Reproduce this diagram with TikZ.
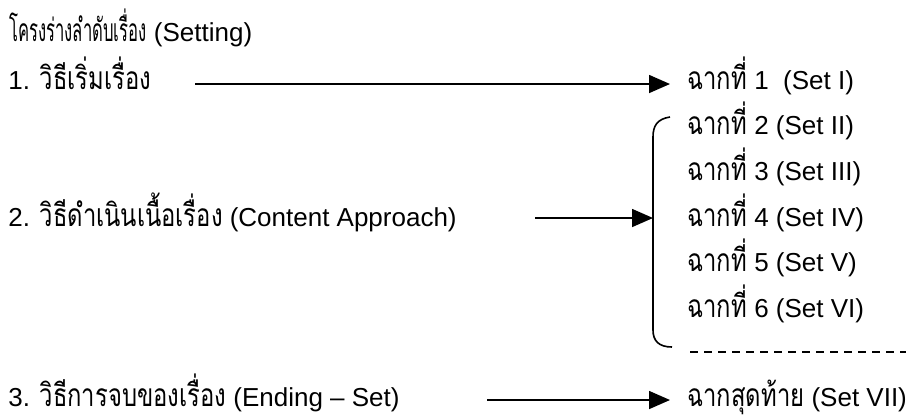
\documentclass[tikz,border=0pt]{standalone}
\usepackage{fontspec}
\usepackage{graphicx}
\setmainfont{Liberation Sans}
\newfontfamily\thai[Script=Thai,Scale=1.22,FakeStretch=0.75]{Loma}
\newcommand\thx[2]{\scalebox{#1}[1]{\thai #2}}
\usetikzlibrary{arrows.meta}
\begin{document}
\begin{tikzpicture}[x=0.5pt,y=-0.5pt,
  txt/.style={anchor=base west,inner sep=0pt,font=\fontsize{13}{15}\selectfont},
  arr/.style={line width=0.8pt,-{Triangle[length=10.5pt,width=9pt]}},
  brace/.style={line width=0.8pt},
  dashline/.style={line width=0.7pt,dash pattern=on 4pt off 3pt}]
\useasboundingbox (0,0) rectangle (909,419);
% left column
\node[txt] (title) at (9,41) {\thx{0.7}{โครงร่างลำดับเรื่อง} (Setting)};
\node[txt] (m1) at (8,89) {1. {\thai วิธีเริ่มเรื่อง}};
\node[txt] (m2) at (8,226) {2. {\thai วิธีดำเนินเนื้อเรื่อง} (Content Approach)};
\node[txt] (m3) at (8,406) {3. {\thai วิธีการจบของเรื่อง} (Ending – Set)};
% right column
\node[txt] (s1) at (687,89) {{\thai ฉากที่} 1\ \ (Set I)};
\node[txt] (s2) at (687,134) {{\thai ฉากที่} 2 (Set II)};
\node[txt] (s3) at (687,180) {{\thai ฉากที่} 3 (Set III)};
\node[txt] (s4) at (687,226) {{\thai ฉากที่} 4 (Set IV)};
\node[txt] (s5) at (687,271) {{\thai ฉากที่} 5 (Set V)};
\node[txt] (s6) at (687,317) {{\thai ฉากที่} 6 (Set VI)};
\node[txt] (s7) at (687,406) {{\thai ฉากสุดท้าย} (Set VII)};
% connectors
\coordinate (a1s) at (195,84);
\coordinate (a2s) at (535,218);
\coordinate (a3s) at (487,400);
\coordinate (bx) at (653,218);
\coordinate (btop) at (670,117);
\coordinate (bbot) at (672,347);
\coordinate (ds) at (690,352);
\coordinate (de) at (906,352);
\draw[arr,shorten >=8.5pt] (a1s) -- (a1s -| s1.west);
\draw[arr] (a2s) -- (bx);
\draw[arr,shorten >=8.5pt] (a3s) -- (a3s -| s7.west);
\draw[brace] (btop) .. controls (657,119) and (653,126) .. (653,137) -- (653,330) .. controls (653,341) and (659,347) .. (bbot);
\draw[dashline] (ds) -- (de);
\end{tikzpicture}
\end{document}
